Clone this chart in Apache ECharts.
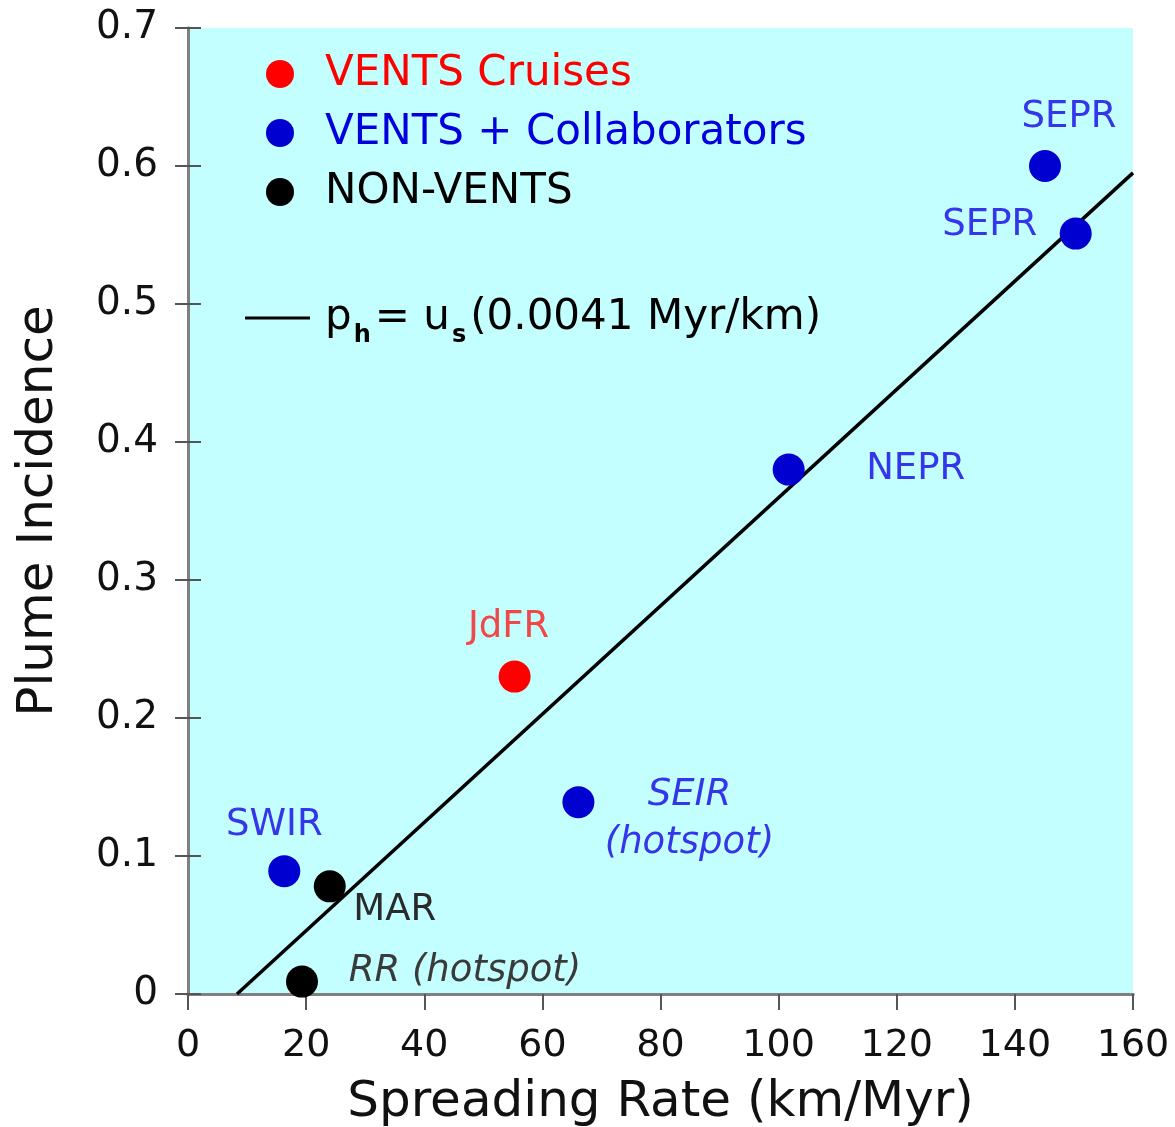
<!DOCTYPE html>
<html>
<head>
<meta charset="utf-8">
<script src="https://cdn.jsdelivr.net/npm/echarts@6/dist/echarts.min.js"></script>
<style>
  html, body { margin: 0; padding: 0; background: #ffffff; }
  #chart { width: 1175px; height: 1127px; }
</style>
</head>
<body>
<div id="chart"></div>
<script>
// ---- Data ----
const cruiseSites = ['JdFR'];
const cruiseRate = [55.3];
const cruisePlume = [0.23];

const collabSites = ['SWIR', 'SEIR\n(hotspot)', 'NEPR', 'SEPR', 'SEPR '];
const collabRate = [16.3, 66.1, 101.7, 145.1, 150.3];
const collabPlume = [0.089, 0.139, 0.38, 0.60, 0.551];

const nonVentsSites = ['MAR', 'RR (hotspot)'];
const nonVentsRate = [24.0, 19.3];
const nonVentsPlume = [0.078, 0.009];

const fitRate = [8.3, 160];
const fitPlume = [0, 0.595];

const xTickLabels = ['0', '20', '40', '60', '80', '100', '120', '140', '160'];
const yTickLabels = ['0', '0.1', '0.2', '0.3', '0.4', '0.5', '0.6', '0.7'];

const seriesNames = ['VENTS Cruises', 'VENTS + Collaborators', 'NON-VENTS'];

// ---- Label placement (style, not data) ----
const labelStyle = {
  'JdFR':        { offset: [-6, -49], color: '#f04848' },
  'SWIR':        { offset: [-10, -46], color: '#3535ea' },
  'SEIR\n(hotspot)': { offset: [111, 17], color: '#3535ea', fontStyle: 'italic', lineHeight: 48 },
  'NEPR':        { offset: [127, 0], color: '#3535ea' },
  'SEPR':        { offset: [24, -49], color: '#3535ea' },
  'SEPR ':       { offset: [-86, -8], color: '#3535ea' },
  'MAR':         { offset: [65, 24], color: '#2a2a2a' },
  'RR (hotspot)': { offset: [163, -10], color: '#3a3a3a', fontStyle: 'italic' }
};

function buildData(names, xs, ys) {
  return names.map(function (n, i) {
    const s = labelStyle[n];
    return {
      value: [xs[i], ys[i]],
      name: n,
      label: {
        show: true,
        position: 'inside',
        formatter: n.trim(),
        offset: s.offset,
        color: s.color,
        fontStyle: s.fontStyle || 'normal',
        lineHeight: s.lineHeight || 40,
        fontSize: 37,
        fontFamily: 'DejaVu Sans',
        align: 'center',
        verticalAlign: 'middle'
      }
    };
  });
}

const chart = echarts.init(document.getElementById('chart'), null, { renderer: 'canvas' });

const axisGray = '#808080';
const tickColor = '#555555';

const option = {
  backgroundColor: '#ffffff',
  animation: false,
  grid: {
    left: 188, right: 42, top: 28, bottom: 133,
    outerBoundsMode: 'none', containLabel: false,
    show: true, backgroundColor: '#c3ffff', borderWidth: 0
  },
  legend: [
    {
      data: seriesNames.map(function (n, i) {
        return { name: n, textStyle: { color: ['#ff0000', '#0000dd', '#000000'][i] } };
      }),
      orient: 'vertical',
      left: 261, top: 48,
      itemWidth: 28, itemHeight: 28, itemGap: 17,
      icon: 'circle',
      selectedMode: false,
      textStyle: { fontSize: 42, fontFamily: 'DejaVu Sans', padding: [0, 0, 0, 26] }
    },
    {
      data: [{ name: 'fit', icon: 'rect' }],
      left: 240, top: 292,
      itemWidth: 65, itemHeight: 3,
      selectedMode: false,
      formatter: function () {
        return '{a|p}{sub|h}{b|= u}{sub|s}{b|(0.0041 Myr/km)}';
      },
      textStyle: {
        fontFamily: 'DejaVu Sans', fontSize: 42, color: '#000',
        rich: {
          a: { fontSize: 42, padding: [0, 0, 0, 10], fontFamily: 'DejaVu Sans' },
          b: { fontSize: 42, fontFamily: 'DejaVu Sans' },
          sub: { fontSize: 24, fontWeight: 'bold', padding: [36, 4, 0, 2], fontFamily: 'DejaVu Sans' }
        }
      }
    }
  ],
  xAxis: [
    {
      type: 'value', min: 0, max: 160, interval: 20, position: 'bottom',
      name: 'Spreading Rate (km/Myr)', nameLocation: 'middle', nameGap: 84,
      nameTextStyle: { fontSize: 50, fontFamily: 'DejaVu Sans', color: '#111' },
      axisLine: { show: true, lineStyle: { color: axisGray, width: 3 } },
      axisTick: { show: true, inside: false, length: 16, lineStyle: { color: tickColor, width: 2 } },
      axisLabel: {
        margin: 33, fontSize: 38, fontFamily: 'DejaVu Sans', color: '#111',
        formatter: function (v) { return xTickLabels[Math.round(v / 20)]; }
      },
      splitLine: { show: false }
    },
    {
      type: 'value', min: 0, max: 160, interval: 20, position: 'top',
      axisLine: { show: true, lineStyle: { color: axisGray, width: 3 } },
      axisTick: { show: false }, axisLabel: { show: false }, splitLine: { show: false }
    }
  ],
  yAxis: [
    {
      type: 'value', min: 0, max: 0.7, interval: 0.1, position: 'left',
      name: 'Plume Incidence', nameLocation: 'middle', nameGap: 124,
      nameTextStyle: { fontSize: 50, fontFamily: 'DejaVu Sans', color: '#111' },
      axisLine: { show: true, lineStyle: { color: axisGray, width: 3 } },
      axisTick: { show: true, inside: false, length: 13, lineStyle: { color: tickColor, width: 2 } },
      axisLabel: {
        margin: 30, fontSize: 39, fontFamily: 'DejaVu Sans', color: '#111',
        formatter: function (v) { return yTickLabels[Math.round(v * 10)]; }
      },
      splitLine: { show: false }
    },
    {
      type: 'value', min: 0, max: 0.7, interval: 0.1, position: 'right',
      axisLine: { show: true, lineStyle: { color: axisGray, width: 3 } },
      axisTick: { show: true, inside: false, length: 13, lineStyle: { color: tickColor, width: 2 } },
      axisLabel: { show: false }, splitLine: { show: false }
    }
  ],
  series: [
    {
      name: 'fit', type: 'line', xAxisIndex: 0, yAxisIndex: 0,
      data: fitRate.map(function (x, i) { return [x, fitPlume[i]]; }),
      symbol: 'none', showSymbol: false, silent: true,
      lineStyle: { color: '#000000', width: 3.5 },
      itemStyle: { color: '#000000' },
      z: 2
    },
    {
      name: seriesNames[0], type: 'scatter', symbolSize: 32,
      itemStyle: { color: '#ff0000', opacity: 1 },
      data: buildData(cruiseSites, cruiseRate, cruisePlume), z: 3
    },
    {
      name: seriesNames[1], type: 'scatter', symbolSize: 32,
      itemStyle: { color: '#0000d0', opacity: 1 },
      data: buildData(collabSites, collabRate, collabPlume), z: 3
    },
    {
      name: seriesNames[2], type: 'scatter', symbolSize: 32,
      itemStyle: { color: '#000000', opacity: 1 },
      data: buildData(nonVentsSites, nonVentsRate, nonVentsPlume), z: 3
    }
  ]
};

chart.setOption(option);
</script>
</body>
</html>
